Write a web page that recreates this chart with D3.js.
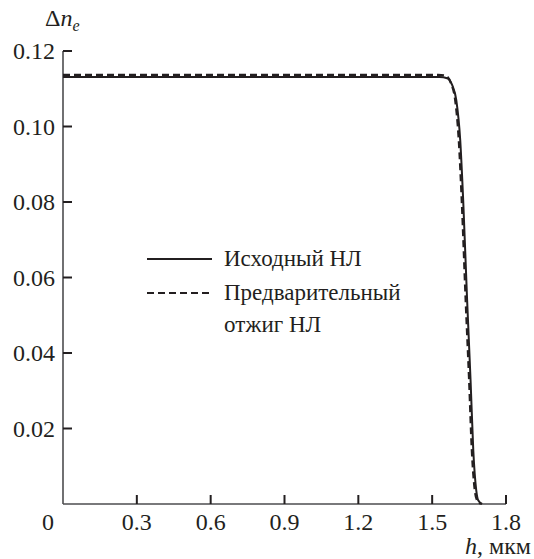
<!DOCTYPE html>
<html>
<head>
<meta charset="utf-8">
<script src="https://d3js.org/d3.v7.min.js"></script>
<style>
  svg text, svg tspan { font-family: 'Liberation Serif', 'Times New Roman', Tinos, serif !important; }
</style>
</head>
<body style="margin:0">
<svg width="534" height="559"></svg>
<script>
// curve 1: original (solid)
var hSolid = [0, 0.5, 1.0, 1.53, 1.561, 1.581, 1.598, 1.614, 1.626, 1.642, 1.656, 1.667, 1.679, 1.687, 1.703];
var nSolid = [0.1131, 0.1131, 0.1131, 0.1131, 0.1128, 0.111, 0.107, 0.0964, 0.0805, 0.054, 0.0328, 0.0143, 0.0037, 0.001, 0];
// curve 2: pre-annealed (dashed)
var hDashed = [0, 0.5, 1.0, 1.525, 1.556, 1.576, 1.593, 1.608, 1.620, 1.636, 1.650, 1.661, 1.673, 1.682, 1.698];
var nDashed = [0.1137, 0.1137, 0.1137, 0.1137, 0.1134, 0.1115, 0.1072, 0.0964, 0.0805, 0.054, 0.0328, 0.0143, 0.0037, 0.001, 0];
var xTicks = [0.3, 0.6, 0.9, 1.2, 1.5, 1.8];
var yTicks = [0.02, 0.04, 0.06, 0.08, 0.10, 0.12];
var legendLabels = [["Исходный НЛ"], ["Предварительный", "отжиг НЛ"]];

var svg = d3.select("svg");
var ink = "#231f20";
var x = d3.scaleLinear().domain([0, 1.8]).range([63, 506]);
var y = d3.scaleLinear().domain([0, 0.12]).range([504, 51]);

function txt(sel) {
  return sel.append("text").style("font-family", "'Liberation Serif', 'Times New Roman', Tinos, serif").attr("fill", ink);
}

function draw() {
  // axes lines
  svg.append("line").attr("x1", x(0)).attr("x2", x(1.8)).attr("y1", y(0)).attr("y2", y(0))
    .attr("stroke", "#4d4d4f").attr("stroke-width", 1.6);
  svg.append("line").attr("x1", x(0)).attr("x2", x(0)).attr("y1", y(0)).attr("y2", y(0.12))
    .attr("stroke", "#4d4d4f").attr("stroke-width", 1.6);

  // x ticks
  xTicks.forEach(function(d) {
    svg.append("line").attr("x1", x(d)).attr("x2", x(d)).attr("y1", y(0)).attr("y2", y(0) - 9)
      .attr("stroke", ink).attr("stroke-width", 2);
  });
  [0].concat(xTicks).forEach(function(d) {
    txt(svg).attr("x", d === 0 ? x(0) - 15 : x(d)).attr("y", 530)
      .attr("text-anchor", "middle").attr("font-size", 24)
      .text(d === 0 ? "0" : d.toFixed(1));
  });

  // y ticks
  yTicks.forEach(function(d) {
    svg.append("line").attr("x1", x(0)).attr("x2", x(0) + 9).attr("y1", y(d)).attr("y2", y(d))
      .attr("stroke", ink).attr("stroke-width", 2);
    txt(svg).attr("x", 55).attr("y", y(d) + 8)
      .attr("text-anchor", "end").attr("font-size", 24)
      .text(d.toFixed(2));
  });

  // axis titles
  var yt = txt(svg).attr("x", 45).attr("y", 26).attr("font-size", 24);
  yt.append("tspan").text("Δ");
  yt.append("tspan").attr("font-style", "italic").text("n");
  yt.append("tspan").attr("font-style", "italic").attr("font-size", 16).attr("dy", 5).text("e");
  var xt = txt(svg).attr("x", 531).attr("y", 554).attr("text-anchor", "end").attr("font-size", 24);
  xt.append("tspan").attr("font-style", "italic").text("h");
  xt.append("tspan").text(", мкм");

  // curves
  var line = d3.line().x(d => x(d[0])).y(d => y(d[1])).curve(d3.curveMonotoneX);
  svg.append("path").datum(d3.zip(hSolid, nSolid)).attr("d", line)
    .attr("fill", "none").attr("stroke", ink).attr("stroke-width", 2);
  svg.append("path").datum(d3.zip(hDashed, nDashed)).attr("d", line)
    .attr("fill", "none").attr("stroke", ink).attr("stroke-width", 2.2)
    .attr("stroke-dasharray", "7,4");

  // legend
  svg.append("line").attr("x1", 147).attr("x2", 212).attr("y1", 259).attr("y2", 259)
    .attr("stroke", ink).attr("stroke-width", 1.8);
  svg.append("line").attr("x1", 147).attr("x2", 212).attr("y1", 293).attr("y2", 293)
    .attr("stroke", ink).attr("stroke-width", 1.8).attr("stroke-dasharray", "7,4");
  legendLabels.forEach(function(lines, i) {
    lines.forEach(function(t, j) {
      txt(svg).attr("x", 224).attr("y", 266 + i * 34 + j * 32)
        .attr("font-size", 23).text(t);
    });
  });
}

if (document.fonts && document.fonts.load) {
  Promise.all([
    document.fonts.load('24px "Liberation Serif"'),
    document.fonts.load('italic 24px "Liberation Serif"')
  ]).then(draw, draw);
} else {
  draw();
}
</script>
</body>
</html>
